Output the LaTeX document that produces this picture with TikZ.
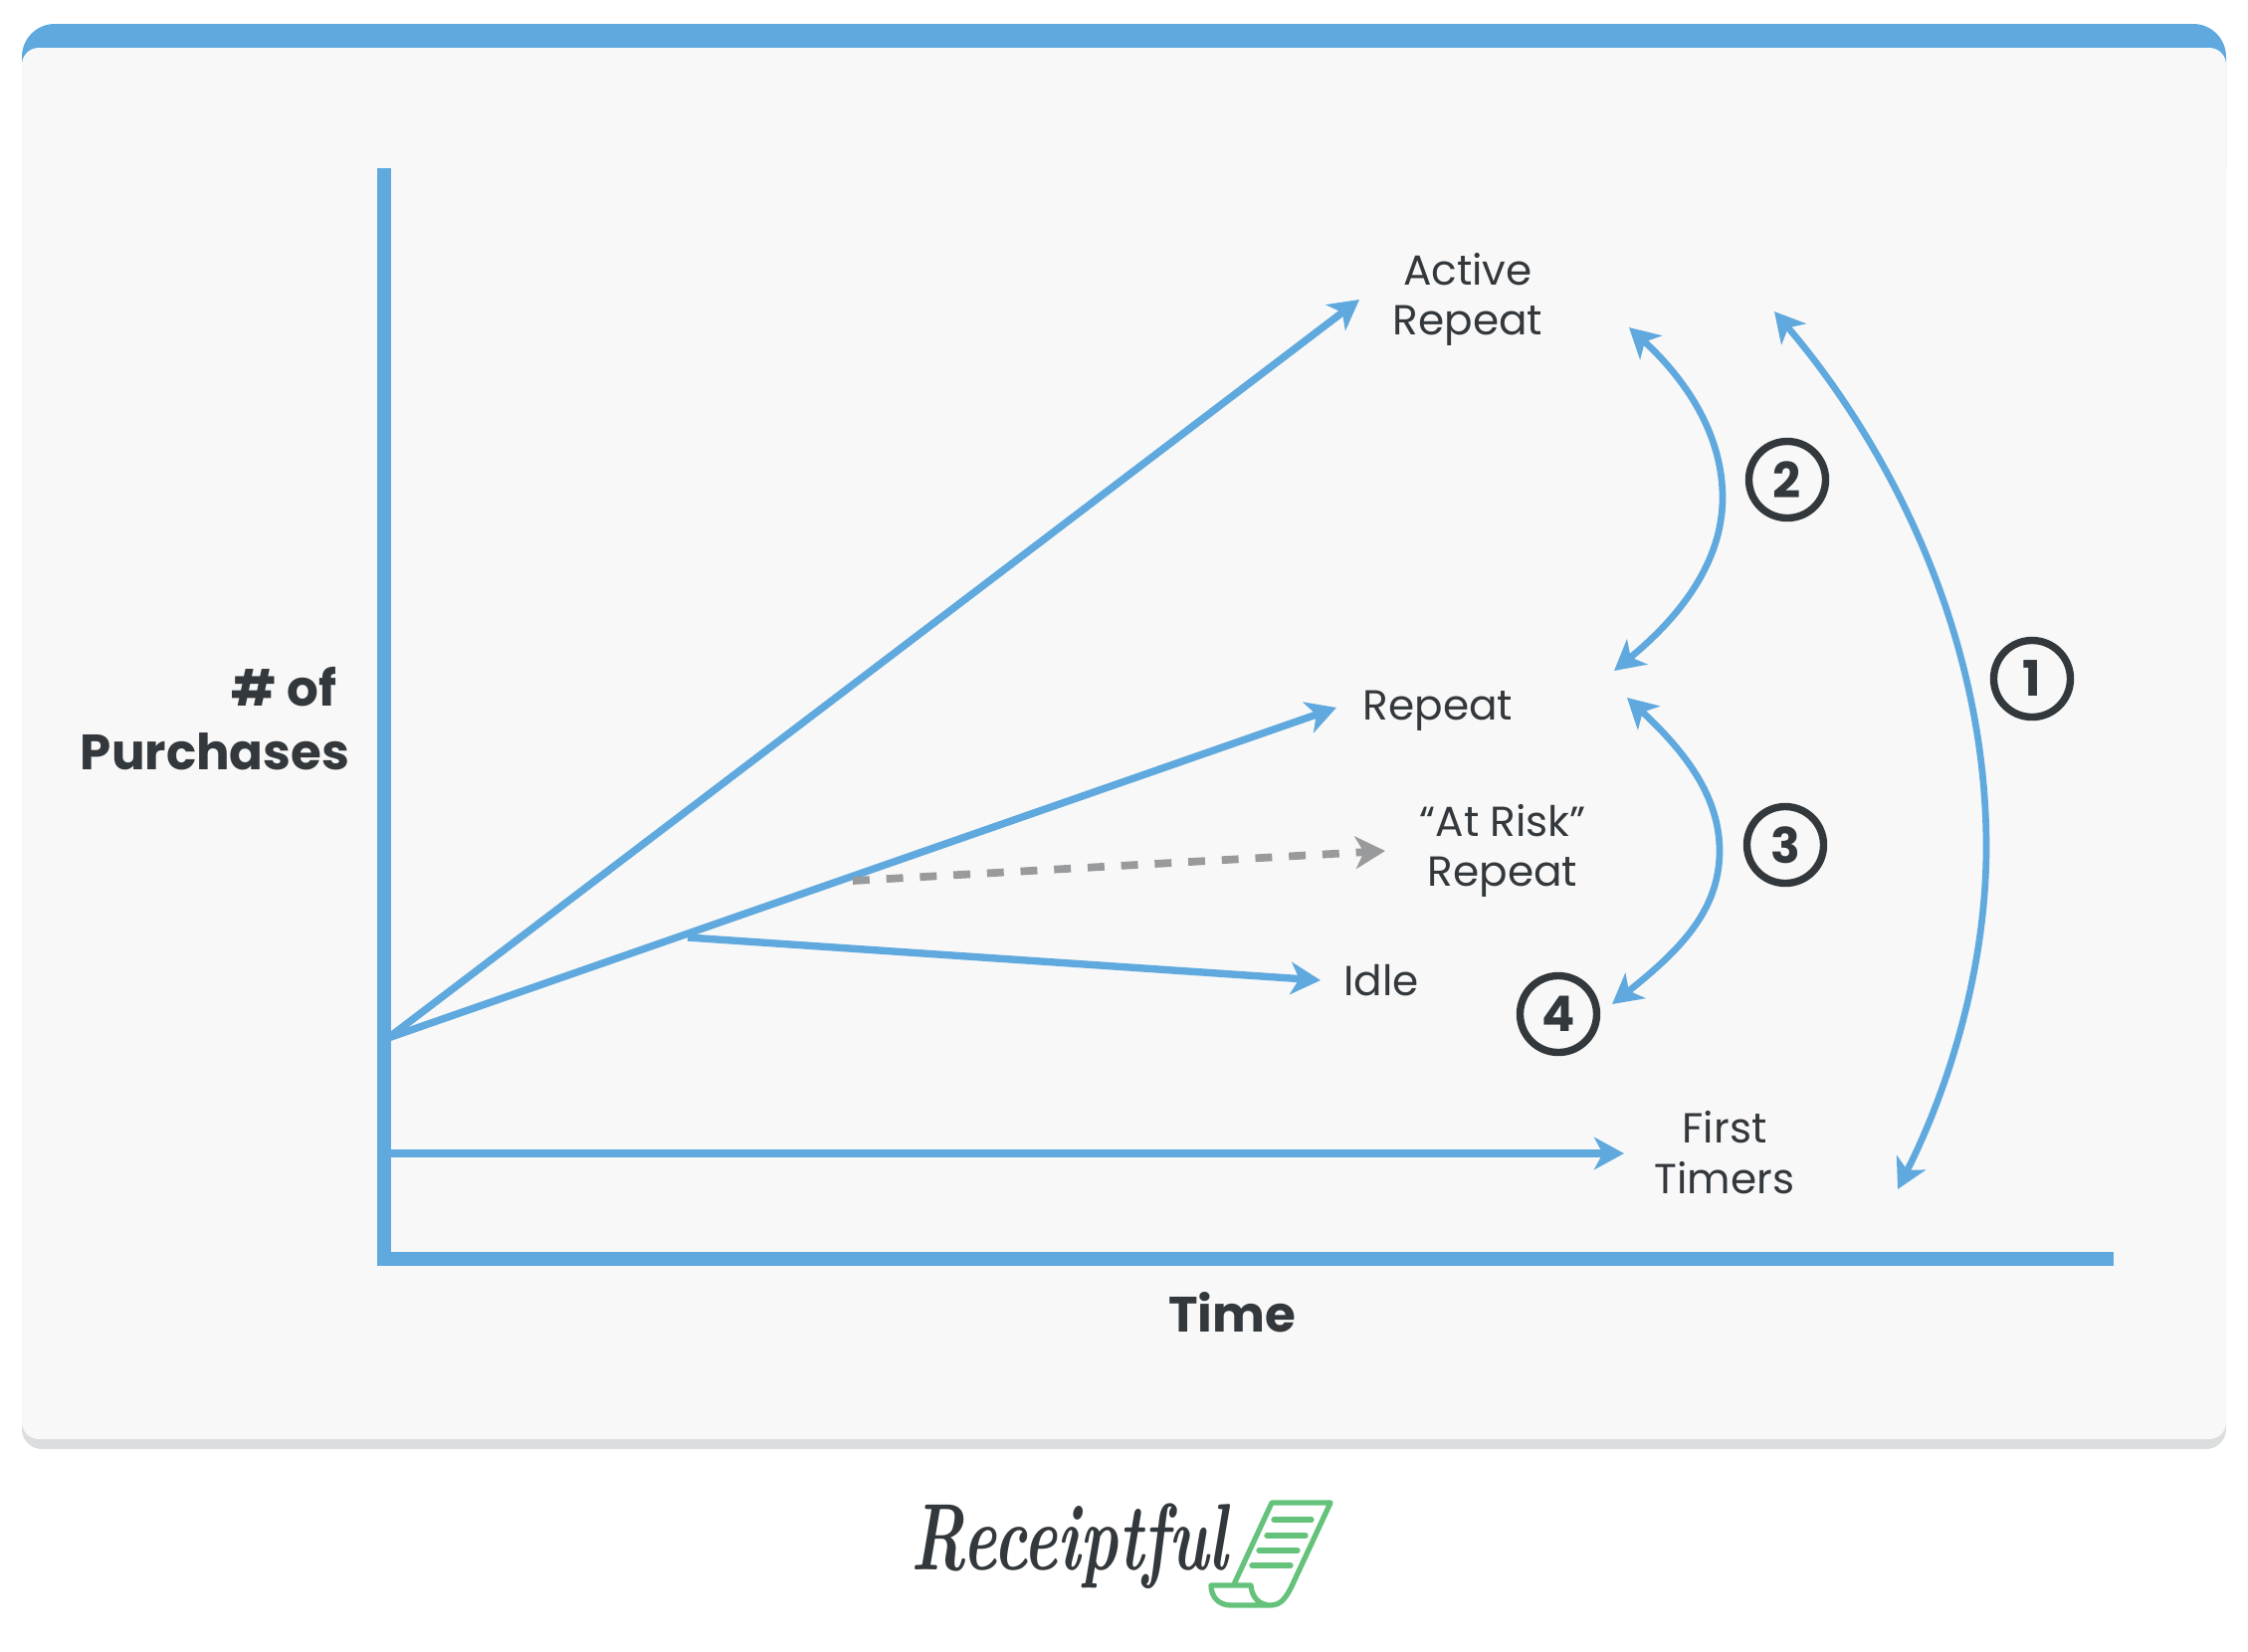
\documentclass[tikz,border=0pt]{standalone}
\usepackage{fontspec}
\usetikzlibrary{arrows.meta}
\newfontfamily\labelfont{Poppins}
\definecolor{lineblue}{HTML}{5FA9DE}
\definecolor{cardgrey}{HTML}{F8F8F8}
\definecolor{shadowgrey}{HTML}{DCDDDF}
\definecolor{dashgrey}{HTML}{999A9C}
\definecolor{inkdark}{HTML}{33383C}
\definecolor{receiptgreen}{HTML}{64C27B}
\tikzset{
  swept/.tip={Stealth[length=8.5pt,width=9.2pt,inset=2.4pt]},
  segment/.style={draw=lineblue,line width=2.1pt,-{swept}},
  move/.style={draw=lineblue,line width=1.9pt,{swept}-{swept}},
  axis/.style={draw=lineblue,line width=4pt},
  label/.style={text=inkdark,font=\labelfont\fontsize{12}{14.3}\selectfont,align=center,inner sep=0pt},
  axislabel/.style={text=inkdark,font=\labelfont\bfseries\fontsize{14.2}{18}\selectfont,inner sep=0pt},
  numcircle/.style={circle,draw=inkdark,line width=2.1pt,minimum size=0.77cm,inner sep=0pt,text=inkdark,font=\labelfont\bfseries\fontsize{14}{14}\selectfont},
  receipt/.style={draw=receiptgreen,line width=1.5pt,line cap=round,line join=round},
}
\begin{document}
\begin{tikzpicture}[x=0.01cm,y=-0.01cm]
  \useasboundingbox (0,0) rectangle (2259,1659);

  % Card
  \fill[lineblue, rounded corners=0.33cm] (22,24) rectangle (2237,200);
  \fill[shadowgrey, rounded corners=0.2cm] (22,800) rectangle (2237,1456);
  \fill[cardgrey, rounded corners=0.17cm] (22,48) rectangle (2237,1446);

  % Axes
  \coordinate (axistop) at (386,169);
  \coordinate (corner) at (386,1265);
  \coordinate (axisend) at (2124,1265);
  \draw[axis, line join=miter] (axistop) -- (corner) -- (axisend);
  \node[axislabel, anchor=east, align=right] (ylabel) at (352,722) {\# of\rule{0.13cm}{0pt}\\Purchases};
  \node[axislabel] (xlabel) at (1238,1319) {Time};

  % Segment labels
  \node[label] (active) at (1475,301) {Active\\Repeat};
  \node[label] (repeat) at (1445,714) {Repeat};
  \node[label] (atrisk) at (1510,855) {“At Risk”\\Repeat};
  \node[label] (idle) at (1388,985) {Idle};
  \node[label] (first) at (1733,1158) {First\\Timers};

  % Segment lines
  \coordinate (origin) at (390,1043);
  \coordinate (activetip) at (1366,301);
  \coordinate (repeattip) at (1343,711);
  \coordinate (idlestart) at (691,942);
  \coordinate (idletip) at (1327,985);
  \coordinate (riskstart) at (857,885);
  \coordinate (risktip) at (1392,855);
  \coordinate (firststart) at (390,1159);
  \coordinate (firsttip) at (1632,1159);
  \draw[segment] (origin) -- (activetip);
  \draw[segment] (origin) -- (repeattip);
  \draw[segment] (idlestart) -- (idletip);
  \draw[segment] (firststart) -- (firsttip);
  \draw[draw=dashgrey, line width=2.2pt, dash pattern=on 4.8pt off 4.8pt,
    -{Stealth[length=8.5pt,width=9.2pt,inset=2.4pt]}] (riskstart) -- (risktip);

  % Moves between segments
  \coordinate (onetop) at (1783,313);
  \coordinate (onemid) at (1996,851);
  \coordinate (onelow) at (1907,1195);
  \draw[move] (onetop) .. controls (1900,450) and (1996,640) .. (onemid)
    .. controls (1996,970) and (1960,1090) .. (onelow);
  \coordinate (twotop) at (1637,329);
  \coordinate (twomid) at (1731,500);
  \coordinate (twolow) at (1622,674);
  \draw[move] (twotop) .. controls (1698,385) and (1731,440) .. (twomid)
    .. controls (1731,565) and (1688,620) .. (twolow);
  \coordinate (threetop) at (1635,701);
  \coordinate (threemid) at (1728,855);
  \coordinate (threelow) at (1620,1009);
  \draw[move] (threetop) .. controls (1693,755) and (1728,800) .. (threemid)
    .. controls (1728,915) and (1688,955) .. (threelow);

  % Numbers
  \node[numcircle] (one) at (2042,682) {1};
  \node[numcircle] (two) at (1796,482) {2};
  \node[numcircle] (three) at (1794,849) {3};
  \node[numcircle] (four) at (1566,1019) {4};

  % Logo
  \node[text=inkdark, font=\bfseries\itshape\fontsize{27}{27}\selectfont, inner sep=0pt, anchor=base] (logo) at (1075,1577) {\scalebox{0.68}[1]{Receiptful}};
  \draw[receipt] (1240,1592) -- (1278,1510) -- (1337,1510) -- (1298,1594)
    .. controls (1290,1610) and (1285,1613) .. (1275,1613) -- (1237,1613)
    .. controls (1225,1613) and (1217,1605) .. (1217,1593) -- (1257,1593)
    .. controls (1258,1605) and (1265,1612) .. (1275,1613);
  \foreach \y/\a/\b in {1527/1280/1318, 1543/1273/1312, 1558/1265/1304, 1573/1258/1297}
    \draw[receipt] (\a,\y) -- (\b,\y);
\end{tikzpicture}
\end{document}
